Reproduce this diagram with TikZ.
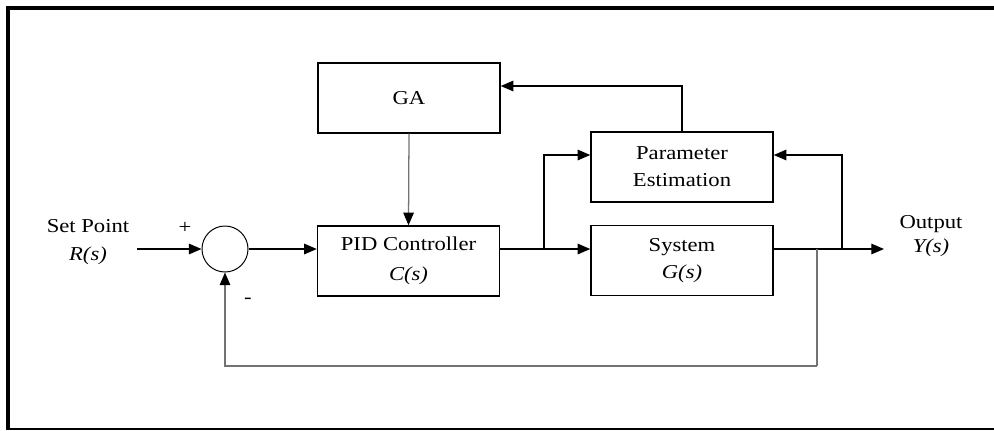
\documentclass[tikz,border=0pt]{standalone}
\usepackage{fontspec}
\setmainfont{Liberation Serif}[FakeStretch=1.15]
\usepackage{tikz}
\usetikzlibrary{arrows.meta}
\usetikzlibrary{calc}
\usetikzlibrary{positioning}
\tikzset{
    block/.style={draw=black, line width=1pt, minimum width=4.55cm, minimum height=1.75cm,
        align=center, font=\fontsize{14}{19}\selectfont},
    sumjunction/.style={draw=black, line width=0.7pt, circle, minimum size=1.15cm, inner sep=0pt},
    signal/.style={draw=black, line width=0.9pt, -{Triangle[length=9pt,width=7.5pt]}},
    faintsignal/.style={draw=black!55, line width=0.9pt, -{Triangle[length=9pt,width=7.5pt,color=black]}},
    wire/.style={draw=black, line width=0.9pt},
    faintwire/.style={draw=black!55, line width=0.9pt},
    lbl/.style={align=center, font=\fontsize{14}{20}\selectfont, inner sep=0pt}
}
\begin{document}
\begin{tikzpicture}[x=0.025cm,y=-0.025cm]
	\useasboundingbox (0,0) rectangle (994,430);
	% frame
	\draw[line width=2.6pt] (8,430)--(8,8)--(994,8);
	\draw[line width=1.2pt] (8,429)--(994,429);
	% blocks
	\node[block] (ga) at (409,98) {GA};
	\node[block] (pid) at (408.5,261) {PID Controller\\[2pt]\textit{C(s)}};
	\node[block] (par) at (682,167) {Parameter\\Estimation};
	\node[block] (sys) at (682,260.5) {System\\\textit{G(s)}};
	\node[sumjunction] (sum) at (225,249) {};
	% labels
	\node[lbl] (setpt) at (88,242) {Set Point\\\textit{R(s)}};
	\node[lbl] (outp) at (931,236) {Output\\[-3pt]\textit{Y(s)}};
	\node[lbl] (plus) at (185,228) {+};
	\node[lbl] (minus) at (248,301) {-};
	\coordinate (in) at (137,249);
	\coordinate (out) at (884,249);
	\coordinate (b1) at (544,249);
	\coordinate (b2) at (842,249);
	\coordinate (b3) at (817,249);
	\coordinate (fb) at (817,366);
	% connectors
	\draw[signal] (in)--(sum.west);
	\draw[signal] (sum.east)--(sum.east -| pid.west);
	\draw[signal] (sum.east -| pid.east)--(sum.east -| sys.west);
	\draw[signal] (sum.east -| sys.east)--(out);
	\draw[faintsignal] (ga.south)--(pid.north);
	\draw[signal] (b1) |- ($(par.west)+(0,-12)$);
	\draw[signal] (b2) |- ($(par.east)+(0,-12)$);
	\draw[signal] (par.north) |- ($(ga.east)+(0,-12)$);
	\draw[faintwire] (b3)--(fb);
	\draw[faintsignal] (fb) -| (sum.south);
\end{tikzpicture}
\end{document}
